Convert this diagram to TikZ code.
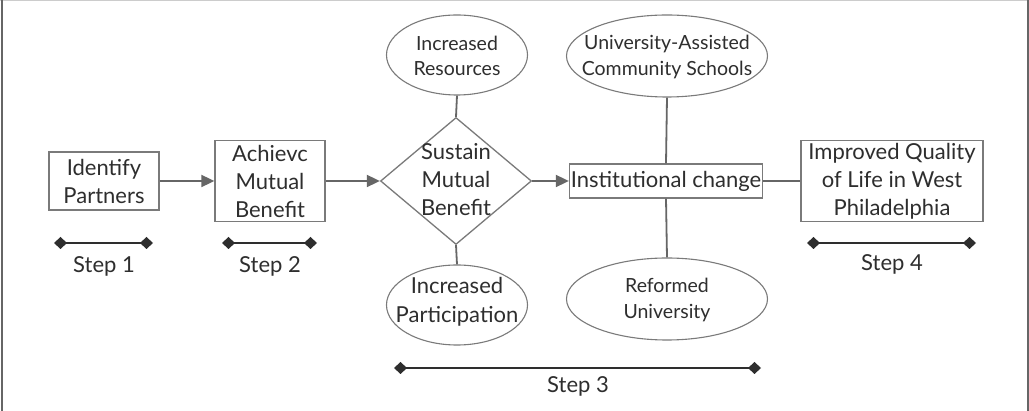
\documentclass[tikz,border=0pt]{standalone}
\usepackage{fontspec}
\setmainfont{Lato}
\usetikzlibrary{shapes.geometric,arrows.meta}
\definecolor{boxline}{HTML}{7A7A7A}
\definecolor{txt}{HTML}{2E2E2E}
\definecolor{conn}{HTML}{666666}
\begin{document}
\begin{tikzpicture}[x=1pt,y=-1pt,
  every node/.style={text=txt,inner sep=0pt,align=center},
  rbox/.style={draw=boxline,line width=1.3pt,rectangle},
  oval/.style={draw=boxline,line width=1.1pt,ellipse},
  dia/.style={draw=boxline,line width=1.3pt,diamond},
  link/.style={draw=conn,line width=1.8pt},
  flow/.style={link,-{Triangle[length=13pt,width=12pt]}},
  stepbar/.style={draw=txt,line width=1.5pt,{Diamond[length=13pt,width=12pt]}-{Diamond[length=13pt,width=12pt]}},
  big/.style={font=\fontsize{22}{28}\selectfont},
  small/.style={font=\fontsize{19.5}{25.5}\selectfont},
  steptxt/.style={font=\fontsize{22}{26}\selectfont}]
\useasboundingbox (0,0) rectangle (1029,411);
\fill[white] (0,0) rectangle (1029,411);
\draw[draw=black!20,line width=1.5pt] (0,0.75) -- (1029,0.75);
\draw[draw=black!60,line width=2pt] (1.5,0) -- (1.5,411);
\draw[draw=black!60,line width=2pt] (1027.5,0) -- (1027.5,411);

\node[rbox,big,minimum width=110pt,minimum height=58pt] (ip) at (104,181) {Identify\\Partners};
\node[rbox,big,minimum width=110pt,minimum height=81pt] (amb) at (270,181) {Achievc\\Mutual\\Benefit};
\node[dia,minimum width=151pt,minimum height=127pt,aspect=1.19] (smb) at (456,181) {};
\node[big] (smbt) at (456,180) {Sustain\\Mutual\\Benefit};
\node[oval,minimum width=141pt,minimum height=80pt] (ir) at (457,55) {};
\node[small] (irt) at (457,56) {Increased\\Resources};
\node[oval,minimum width=141pt,minimum height=80pt] (ipart) at (457,305) {};
\node[big,font=\fontsize{22}{29}\selectfont] (ipartt) at (457,302) {Increased\\Participation};
\node[rbox,big,minimum width=193pt,minimum height=34pt] (ic) at (666,181) {Institutional change};
\node[oval,minimum width=201pt,minimum height=82pt] (uacs) at (667,56) {};
\node[small] (uacst) at (667,57) {University-Assisted\\Community Schools};
\node[oval,minimum width=201pt,minimum height=82pt] (ru) at (667,299) {};
\node[small] (rut) at (667,300) {Reformed\\University};
\node[rbox,big,minimum width=182pt,minimum height=81pt] (iq) at (892,181) {Improved Quality\\of Life in West\\Philadelphia};

\draw[flow] (ip.east) -- (amb.west);
\draw[flow] (amb.east) -- (smb.west);
\draw[flow] (smb.east) -- (ic.west);
\draw[link] (ic.east) -- (iq.west);
\draw[link] (ir.south) -- (smb.north);
\draw[link] (smb.south) -- (ipart.north);
\draw[link] (uacs.south) -- (ic.north);
\draw[link] (ic.south) -- (ru.north);

\coordinate (s1a) at (54,243); \coordinate (s1b) at (153,243);
\coordinate (s2a) at (222,243); \coordinate (s2b) at (317,243);
\coordinate (s3a) at (394,368); \coordinate (s3b) at (761,368);
\coordinate (s4a) at (807,243); \coordinate (s4b) at (976,243);
\draw[stepbar] (s1a) -- (s1b);
\draw[stepbar] (s2a) -- (s2b);
\draw[stepbar] (s3a) -- (s3b);
\draw[stepbar] (s4a) -- (s4b);
\node[steptxt] (st1) at (104,266) {Step 1};
\node[steptxt] (st2) at (270,266) {Step 2};
\node[steptxt] (st3) at (578,386) {Step 3};
\node[steptxt] (st4) at (892,264) {Step 4};
\end{tikzpicture}
\end{document}
